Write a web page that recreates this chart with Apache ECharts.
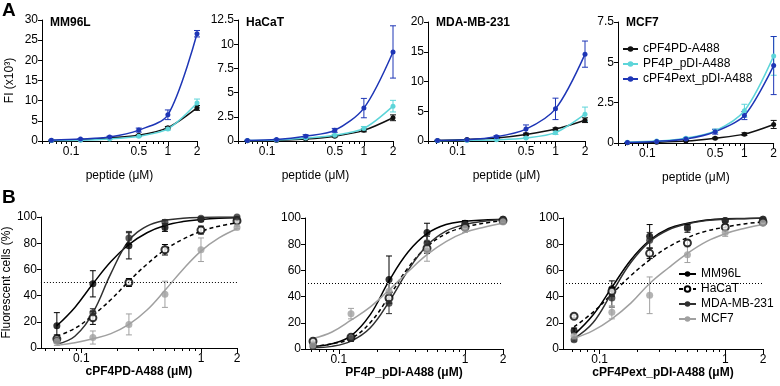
<!DOCTYPE html>
<html>
<head>
<meta charset="utf-8">
<script src="https://cdn.jsdelivr.net/npm/echarts@6/dist/echarts.min.js"></script>
<style>
  html, body { margin: 0; padding: 0; background: #fff; }
  #chart { width: 780px; height: 386px; }
</style>
</head>
<body>
<div id="chart"></div>
<script>
// doses (uM) and fitted curve sampling points
const doses = [0.0625, 0.125, 0.25, 0.5, 1, 2]
const fitDoses = [0.0625, 0.0884, 0.125, 0.177, 0.25, 0.354, 0.5, 0.707, 1, 1.414, 2]

const peptides = ['cPF4PD-A488', 'PF4P_pDI-A488', 'cPF4Pext_pDI-A488']
const cellLines = ['MM96L', 'HaCaT', 'MDA-MB-231', 'MCF7']

// tick labels
const xLabelsA = [0.1, 0.5, 1, 2]
const xLabelsB = [0.1, 1, 2]
const xMajorTicks = [0.1, 1, 2]
const xMinorTicks = [0.05, 0.06, 0.07, 0.08, 0.09, 0.2, 0.3, 0.4, 0.5, 0.6, 0.7, 0.8, 0.9]
const fiMax = [30, 12.5, 20, 7.5]
const fiStep = [5, 2.5, 5, 2.5]

// A: FI (x10^3), rows = peptides (cPF4PD, PF4P_pDI, cPF4Pext_pDI)
const fiMM96L = [
  [0.1, 0.3, 0.8, 1.4, 3.3, 8.2],
  [0.1, 0.2, 0.5, 1.2, 3.0, 9.4],
  [0.2, 0.5, 1.0, 2.7, 6.5, 26.6]
]
const fiMM96LErr = [
  [0.05, 0.1, 0.2, 0.2, 0.3, 0.6],
  [0.05, 0.1, 0.1, 0.2, 0.3, 1.0],
  [0.1, 0.1, 0.2, 0.5, 1.2, 0.8]
]
const fiHaCaT = [
  [0.02, 0.05, 0.2, 0.5, 1.1, 2.4],
  [0.05, 0.1, 0.3, 0.6, 1.3, 3.6],
  [0.05, 0.15, 0.5, 1.1, 3.4, 9.2]
]
const fiHaCaTErr = [
  [0, 0, 0.05, 0.1, 0.15, 0.3],
  [0, 0.05, 0.1, 0.1, 0.2, 0.6],
  [0.05, 0.05, 0.15, 0.2, 1.0, 2.7]
]
const fiMDA = [
  [0.1, 0.25, 0.5, 1.1, 2.0, 3.5],
  [0.05, 0.1, 0.2, 0.5, 1.4, 4.5],
  [0.1, 0.2, 0.7, 2.0, 5.4, 14.6]
]
const fiMDAErr = [
  [0, 0.05, 0.1, 0.2, 0.2, 0.4],
  [0, 0, 0.05, 0.1, 0.3, 1.2],
  [0.05, 0.05, 0.2, 0.7, 1.8, 2.2]
]
const fiMCF7 = [
  [0.02, 0.05, 0.12, 0.3, 0.55, 1.15],
  [0.05, 0.12, 0.3, 0.75, 2.0, 5.4],
  [0.03, 0.1, 0.25, 0.7, 1.7, 4.8]
]
const fiMCF7Err = [
  [0, 0, 0.02, 0.05, 0.08, 0.25],
  [0, 0.02, 0.05, 0.1, 0.4, 1.2],
  [0, 0.02, 0.05, 0.15, 0.25, 1.8]
]

// B: fluorescent cells (%), rows = MM96L, HaCaT, MDA-MB-231, MCF7
const pctPD = [
  [17, 49, 78, 92, 98, 98],
  [7, 23, 50, 75, 90, 97],
  [6, 27, 84, 96, 99, 100],
  [5, 8, 18, 41, 75, 92]
]
const pctPDErr = [
  [10, 10, 10, 3, 1, 0.5],
  [3, 5, 3, 4, 3, 1],
  [2, 3, 5, 2, 1, 0.5],
  [3, 5, 8, 10, 9, 1]
]
const fitPD = [
  [17, 31, 49, 66, 79, 88, 93.5, 96.5, 98, 99, 99.5],
  [9, 15, 25, 37, 51, 64, 75, 83, 89, 93, 95.5],
  [3, 9, 27, 57, 82, 93, 97.5, 99, 99.7, 100, 100],
  [2, 4, 7, 11, 18, 29, 44, 60, 74, 84, 91]
]
const pctP = [
  [4, 8, 53, 89, 96, 99],
  [6, 9, 39, 77, 93, 98],
  [2, 8, 35, 81, 95, 99],
  [3, 27, 44, 75, 92, 97]
]
const pctPErr = [
  [1, 2, 18, 7, 2, 1],
  [1, 1, 4, 4, 2, 1],
  [1, 2, 8, 5, 2, 1],
  [1, 4, 6, 8, 3, 1]
]
const fitP = [
  [2, 4, 10, 26, 52, 74, 88, 95, 97.5, 98.5, 99],
  [2, 4, 8, 20, 40, 62, 78, 88, 93, 96, 98],
  [1, 2, 6, 16, 36, 60, 79, 90, 95, 97.5, 99],
  [8, 13, 22, 32, 45, 59, 72, 82, 89, 93, 96]
]
const pctPext = [
  [14, 46, 86, 93, 98, 99],
  [25, 44, 73, 81, 93, 97],
  [7, 39, 83, 92, 98, 99],
  [10, 28, 41, 72, 89, 96]
]
const pctPextErr = [
  [2, 6, 9, 2, 1, 0.5],
  [1, 3, 4, 2, 2, 1],
  [1, 7, 6, 3, 1, 0.5],
  [2, 5, 14, 6, 3, 1]
]
const fitPext = [
  [11, 26, 47, 68, 83, 92, 96, 98.5, 99.5, 99.7, 100],
  [17, 28, 42, 56, 68, 78, 85, 90, 93, 95.5, 97],
  [8, 20, 43, 66, 82, 91, 95.5, 98, 99, 99.5, 100],
  [8, 14, 23, 35, 50, 62, 73, 82, 88, 92, 95]
]

const FONT = 'Liberation Sans, Arial, sans-serif'
const peptideColors = ['#111111', '#5dd5d9', '#1e36b6']
const cellColors = ['#000000', '#000000', '#303030', '#a0a0a0']

const panelsA = [
  { title: 'MM96L', vals: fiMM96L, errs: fiMM96LErr, grid: { left: 42, top: 20, width: 155, height: 121 } },
  { title: 'HaCaT', vals: fiHaCaT, errs: fiHaCaTErr, grid: { left: 238, top: 20, width: 155, height: 121 } },
  { title: 'MDA-MB-231', vals: fiMDA, errs: fiMDAErr, grid: { left: 428, top: 22, width: 157, height: 119 } },
  { title: 'MCF7', vals: fiMCF7, errs: fiMCF7Err, grid: { left: 618, top: 22, width: 159, height: 121 } }
]
const panelsB = [
  { vals: pctPD, errs: pctPDErr, fit: fitPD, xMin: 0.046, grid: { left: 40, top: 217, width: 197, height: 131 } },
  { vals: pctP, errs: pctPErr, fit: fitP, xMin: 0.054, grid: { left: 305, top: 218, width: 198, height: 131 } },
  { vals: pctPext, errs: pctPextErr, fit: fitPext, xMin: 0.051, grid: { left: 563, top: 218, width: 200, height: 131 } }
]

// error bar with caps
function renderErr(params, api) {
  const x = api.value(0)
  const y = api.value(1)
  const e = api.value(2)
  const lo = api.coord([x, Math.max(y - e, 0)])
  const hi = api.coord([x, y + e])
  const w = 3
  const style = { stroke: api.visual('color'), lineWidth: 1 }
  return {
    type: 'group',
    children: [
      { type: 'line', shape: { x1: lo[0], y1: lo[1], x2: hi[0], y2: hi[1] }, style },
      { type: 'line', shape: { x1: lo[0] - w, y1: lo[1], x2: lo[0] + w, y2: lo[1] }, style },
      { type: 'line', shape: { x1: hi[0] - w, y1: hi[1], x2: hi[0] + w, y2: hi[1] }, style }
    ]
  }
}

const grids = []
const xAxes = []
const yAxes = []
const series = []

function addXAxes(gi, xMin, labels, name, nameGap, bold) {
  xAxes.push({
    type: 'log', logBase: 10, gridIndex: gi, min: xMin, max: 2, position: 'bottom',
    axisLine: { lineStyle: { color: '#000', width: 1 } },
    axisTick: { customValues: xMajorTicks, length: 5, lineStyle: { color: '#000' } },
    axisLabel: { customValues: labels, color: '#000', fontSize: 12, fontFamily: FONT, margin: 5, formatter: v => String(+v) },
    splitLine: { show: false },
    name: name, nameLocation: 'middle', nameGap: nameGap,
    nameTextStyle: { color: '#000', fontSize: 12, fontFamily: FONT, fontWeight: bold ? 'bold' : 'normal' }
  })
  // minor ticks
  xAxes.push({
    type: 'log', logBase: 10, gridIndex: gi, min: xMin, max: 2, position: 'bottom',
    axisLine: { show: false },
    axisTick: { customValues: xMinorTicks, length: 3, lineStyle: { color: '#000' } },
    axisLabel: { show: false },
    splitLine: { show: false }
  })
}

function addYAxis(gi, max, step, name) {
  yAxes.push({
    type: 'value', gridIndex: gi, min: 0, max: max, interval: step,
    axisLine: { show: true, lineStyle: { color: '#000', width: 1 } },
    axisTick: { show: true, length: 4, lineStyle: { color: '#000' } },
    axisLabel: { color: '#000', fontSize: 12, fontFamily: FONT, margin: 4 },
    splitLine: { show: false },
    name: name, nameLocation: 'middle', nameGap: 26,
    nameTextStyle: { color: '#000', fontSize: 12, fontFamily: FONT }
  })
}

// panel A
panelsA.forEach((p, i) => {
  grids.push(p.grid)
  addXAxes(i, 0.05, xLabelsA, 'peptide (\u03bcM)', 29, false)
  addYAxis(i, fiMax[i], fiStep[i], i === 0 ? 'FI (x10\u00b3)' : '')
  p.vals.forEach((vals, k) => {
    const color = peptideColors[k]
    series.push({
      name: peptides[k], type: 'line', xAxisIndex: i * 2, yAxisIndex: i,
      data: doses.map((d, j) => [d, vals[j]]),
      smooth: 0.3,
      symbol: 'circle', symbolSize: 5,
      lineStyle: { width: 1.5, color }, itemStyle: { color }, z: 3
    })
    series.push({
      name: 'err', type: 'custom', xAxisIndex: i * 2, yAxisIndex: i,
      data: doses.map((d, j) => [d, vals[j], p.errs[k][j]]),
      encode: { x: 0, y: 1 }, renderItem: renderErr,
      itemStyle: { color }, z: 2, silent: true
    })
  })
})

// panel B
const bNames = ['cPF4PD-A488 (\u03bcM)', 'PF4P_pDI-A488 (\u03bcM)', 'cPF4Pext_pDI-A488 (\u03bcM)']
panelsB.forEach((p, b) => {
  const gi = 4 + b
  grids.push(p.grid)
  addXAxes(gi, p.xMin, xLabelsB, bNames[b], 17, true)
  addYAxis(gi, 100, 20, b === 0 ? 'Fluorescent cells (%)' : '')
  p.fit.forEach((fit, k) => {
    const color = cellColors[k]
    const s = {
      name: cellLines[k], type: 'line', xAxisIndex: gi * 2, yAxisIndex: gi,
      data: fitDoses.map((d, j) => [d, fit[j]]),
      smooth: 0.4, showSymbol: false,
      symbol: k === 1 ? 'emptyCircle' : 'circle', symbolSize: 7,
      lineStyle: { width: 1.5, color, type: k === 1 ? [4, 3] : 'solid' },
      itemStyle: { color }, z: 2
    }
    if (k === 0) {
      s.markLine = {
        silent: true, symbol: 'none', label: { show: false },
        lineStyle: { type: [1, 2], color: '#000', width: 1 },
        data: [{ yAxis: 50 }]
      }
    }
    series.push(s)
  })
  p.vals.forEach((vals, k) => {
    const color = cellColors[k]
    series.push({
      name: cellLines[k] + ' points', type: 'scatter', xAxisIndex: gi * 2, yAxisIndex: gi,
      data: doses.map((d, j) => [d, vals[j]]),
      symbol: k === 1 ? 'emptyCircle' : 'circle', symbolSize: 7,
      itemStyle: k === 1 ? { color: '#000', borderWidth: 1.5 } : { color }, z: 4
    })
    series.push({
      name: 'err', type: 'custom', xAxisIndex: gi * 2, yAxisIndex: gi,
      data: doses.map((d, j) => [d, vals[j], p.errs[k][j]]),
      encode: { x: 0, y: 1 }, renderItem: renderErr,
      itemStyle: { color }, z: 3, silent: true
    })
  })
})

const titleStyle = { color: '#000', fontFamily: FONT, fontWeight: 'bold', fontSize: 12 }
const option = {
  animation: false,
  backgroundColor: '#fff',
  textStyle: { fontFamily: FONT },
  title: [
    { text: 'A', left: 2, top: 1, padding: 0, textStyle: { ...titleStyle, fontSize: 19 } },
    { text: 'B', left: 2, top: 188, padding: 0, textStyle: { ...titleStyle, fontSize: 19 } },
    ...panelsA.map(p => ({ text: p.title, left: p.grid.left + 8, top: 17, padding: 0, textStyle: titleStyle }))
  ],
  legend: [
    {
      data: peptides, left: 622, top: 43, orient: 'vertical', padding: 0,
      itemWidth: 15, itemHeight: 7, itemGap: 3, selectedMode: false,
      textStyle: { color: '#000', fontSize: 12, fontFamily: FONT }
    },
    {
      data: cellLines, left: 678, top: 268, orient: 'vertical', padding: 0,
      itemWidth: 17, itemHeight: 7, itemGap: 3, selectedMode: false,
      textStyle: { color: '#000', fontSize: 12, fontFamily: FONT }
    }
  ],
  grid: grids,
  xAxis: xAxes,
  yAxis: yAxes,
  series: series
}

const myChart = echarts.init(document.getElementById('chart'))
myChart.setOption(option)
</script>
</body>
</html>
